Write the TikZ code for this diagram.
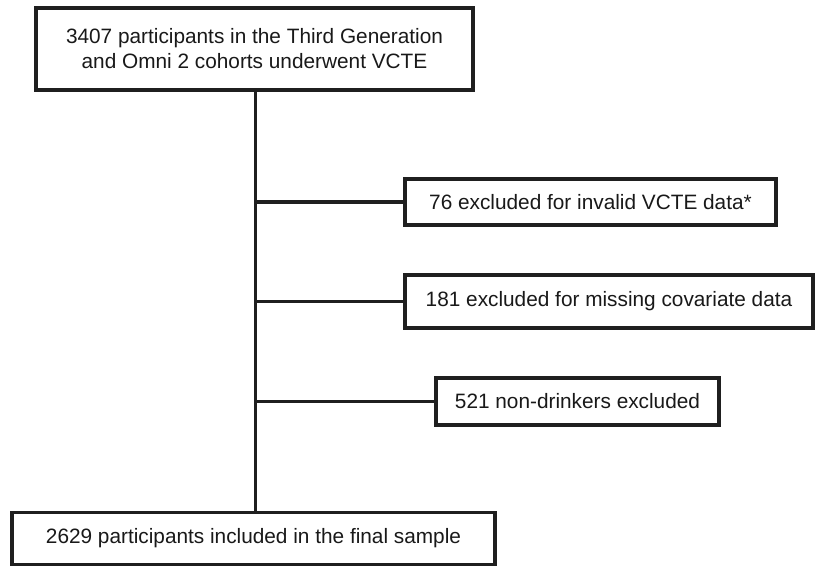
\documentclass[tikz,border=0pt]{standalone}
\usepackage{fontspec}
\setmainfont{Liberation Sans}
\begin{document}
\begin{tikzpicture}[x=1pt,y=-1pt,
  box/.style={draw=black!88, line width=3.8pt, fill=white, rectangle, inner sep=0pt,
    font=\fontsize{20.8}{25}\selectfont, align=center, text=black!90},
  conn/.style={draw=black!88, line width=3.8pt}]
\useasboundingbox (0,0) rectangle (817,566);
\node[box, minimum width=437pt, minimum height=82pt] (top) at (254.5,49)
  {3407 participants in the Third Generation\\and Omni 2 cohorts underwent VCTE};
\node[box, minimum width=371pt, minimum height=46pt] (n1) at (590.5,202)
  {76 excluded for invalid VCTE data*};
\node[box, minimum width=408pt, minimum height=53pt] (n2) at (609,301.5)
  {181 excluded for missing covariate data};
\node[box, minimum width=283pt, minimum height=47pt] (n3) at (577.5,401.5)
  {521 non-drinkers excluded};
\node[box, minimum width=483pt, minimum height=52pt] (bot) at (253.5,538.5)
  {2629 participants included in the final sample};
\draw[conn] (top.south -| 255.5,0) -- (bot.north -| 255.5,0);
\draw[conn] (n1.west) -- (n1.west -| 255.5,0);
\draw[conn] (n2.west) -- (n2.west -| 255.5,0);
\draw[conn] (n3.west) -- (n3.west -| 255.5,0);
\end{tikzpicture}
\end{document}
